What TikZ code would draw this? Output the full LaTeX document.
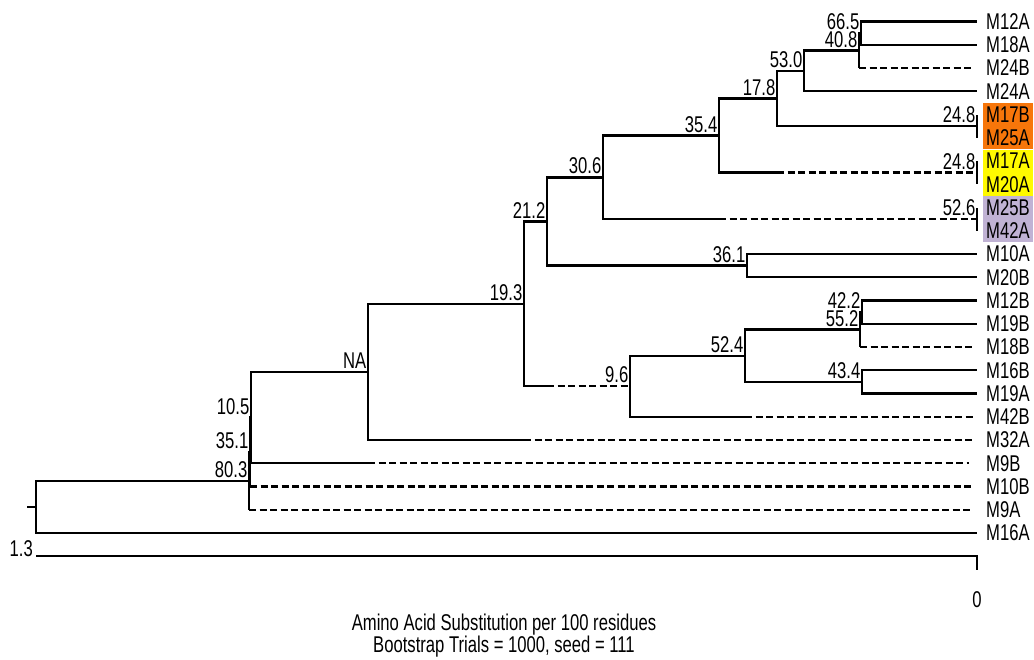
\documentclass[tikz,border=0pt]{standalone}
\usepackage{fontspec}
\setmainfont{Liberation Sans}[FakeStretch=0.73]
\usepackage{xcolor}
\usepackage{tikz}
\usetikzlibrary{positioning,fit,backgrounds}
\definecolor{hlorange}{RGB}{247,118,10}
\definecolor{hlyellow}{RGB}{255,250,0}
\definecolor{hllavender}{RGB}{192,178,212}

\begin{document}
\begin{tikzpicture}[
    x=1pt, y=-1pt,
    font=\fontsize{22.8}{22}\selectfont,
    branch/.style={draw, line width=2.4pt},
    broken/.style={branch, dash pattern=on 7pt off 3.5pt},
    leaf/.style={anchor=west, inner sep=0pt},
    boot/.style={anchor=base east, inner sep=0pt, xshift=-1.5pt, yshift=3.5pt},
    hilite/.style={inner xsep=3pt, inner ysep=3.4pt}
]
    \useasboundingbox (0,0) rectangle (1034,659);

    % Leaves
    \foreach \name/\x/\y in {M12A/977/21.5, M18A/977/44.75, M24B/973/68, M24A/977/91.25,
        M17B/977/114.5, M25A/977/137.75, M17A/977/161, M20A/977/184.25,
        M25B/977/207.5, M42A/977/230.75, M10A/977/254, M20B/977/277.25,
        M12B/977/300.5, M19B/977/323.75, M18B/973/347, M16B/977/370.25,
        M19A/977/393.5, M42B/973/416.75, M32A/973/440, M9B/969/463.25,
        M10B/973/486.5, M9A/973/509.75, M16A/977/533}{
        \coordinate (\name) at (\x,\y);
        \node[leaf] (l\name) at (986,\y) {\name};
    }

    % Highlights
    \begin{scope}[on background layer]
        \node[hilite, fill=hlorange, fit=(lM17B)(lM25A)] (hlA) {};
        \node[hilite, fill=hlyellow, fit=(lM17A)(lM20A)] (hlB) {};
        \node[hilite, fill=hllavender, fit=(lM25B)(lM42A)] (hlC) {};
    \end{scope}

    % Internal nodes
    \coordinate (b665) at (861,33.1);
    \coordinate (b408) at (859,50.6);
    \coordinate (b530) at (804,70.9);
    \coordinate (c248a) at (977,126.1);
    \coordinate (b178) at (777,98.5);
    \coordinate (c248b) at (977,172.6);
    \coordinate (b354) at (719,135.6);
    \coordinate (c526) at (977,219.1);
    \coordinate (b306) at (603,177.4);
    \coordinate (b361) at (747,265.6);
    \coordinate (b212) at (547,221.5);
    \coordinate (b422) at (862,312.1);
    \coordinate (b552) at (860,329.6);
    \coordinate (b434) at (862,381.9);
    \coordinate (b524) at (745,355.7);
    \coordinate (b96) at (630,386.2);
    \coordinate (b193) at (524,303.9);
    \coordinate (bNA) at (368,372);
    \coordinate (b105) at (251,417.6);
    \coordinate (b351) at (250,452.1);
    \coordinate (b803) at (249,480.9);
    \coordinate (root) at (36,507);
    \coordinate (stub) at (27,507);

    % Bootstrap values
    \node[boot] (t665) at (b665) {66.5};
    \node[boot] (t408) at (b408) {40.8};
    \node[boot] (t530) at (b530) {53.0};
    \node[boot] (t248a) at (c248a) {24.8};
    \node[boot] (t178) at (b178) {17.8};
    \node[boot] (t248b) at (c248b) {24.8};
    \node[boot] (t354) at (b354) {35.4};
    \node[boot] (t526) at (c526) {52.6};
    \node[boot] (t306) at (b306) {30.6};
    \node[boot] (t361) at (b361) {36.1};
    \node[boot] (t212) at (b212) {21.2};
    \node[boot] (t422) at (b422) {42.2};
    \node[boot] (t552) at (b552) {55.2};
    \node[boot] (t434) at (b434) {43.4};
    \node[boot] (t524) at (b524) {52.4};
    \node[boot] (t96) at (b96) {9.6};
    \node[boot] (t193) at (b193) {19.3};
    \node[boot] (tNA) at (bNA) {NA};
    \node[boot] (t105) at (b105) {10.5};
    \node[boot] (t351) at (b351) {35.1};
    \node[boot] (t803) at (b803) {80.3};

    % Connections
    \draw[branch] (b665) |- (M12A);
    \draw[branch] (b665) |- (M18A);
    \draw[branch] (b408) |- (b665);
    \draw[branch] (b408) -- (b408 |- M24B);
    \draw[broken] (b408 |- M24B) -- (M24B);
    \draw[branch] (b530) |- (b408);
    \draw[branch] (b530) |- (M24A);
    \draw[branch] (c248a) -- (M17B);
    \draw[branch] (c248a) -- (M25A);
    \draw[branch] (b178) |- (b530);
    \draw[branch] (b178) |- (c248a);
    \draw[branch] (c248b) -- (M17A);
    \draw[branch] (c248b) -- (M20A);
    \draw[branch] (b354) |- (b178);
    \draw[branch] (b354) |- (b178 |- c248b);
    \draw[broken] (b178 |- c248b) -- (c248b);
    \draw[branch] (c526) -- (M25B);
    \draw[branch] (c526) -- (M42A);
    \draw[branch] (b306) |- (b354);
    \draw[branch] (b306) |- (b354 |- c526);
    \draw[broken] (b354 |- c526) -- (c526);
    \draw[branch] (b361) |- (M10A);
    \draw[branch] (b361) |- (M20B);
    \draw[branch] (b212) |- (b306);
    \draw[branch] (b212) |- (b361);
    \draw[branch] (b422) |- (M12B);
    \draw[branch] (b422) |- (M19B);
    \draw[branch] (b552) |- (b422);
    \draw[branch] (b552) -- (b552 |- M18B);
    \draw[broken] (b552 |- M18B) -- (M18B);
    \draw[branch] (b434) |- (M16B);
    \draw[branch] (b434) |- (M19A);
    \draw[branch] (b524) |- (b552);
    \draw[branch] (b524) |- (b434);
    \draw[branch] (b96) |- (b524);
    \draw[branch] (b96) |- (b524 |- M42B);
    \draw[broken] (b524 |- M42B) -- (M42B);
    \draw[branch] (b193) |- (b212);
    \draw[branch] (b193) |- (b212 |- b96);
    \draw[broken] (b212 |- b96) -- (b96);
    \draw[branch] (bNA) |- (b193);
    \draw[branch] (bNA) |- (b193 |- M32A);
    \draw[broken] (b193 |- M32A) -- (M32A);
    \draw[branch] (b105) |- (bNA);
    \draw[branch] (b105) |- (bNA |- M9B);
    \draw[broken] (bNA |- M9B) -- (M9B);
    \draw[branch] (b351) |- (b105);
    \draw[branch] (b351) -- (b351 |- M10B);
    \draw[broken] (b351 |- M10B) -- (M10B);
    \draw[branch] (b803) |- (b351);
    \draw[branch] (b803) -- (b803 |- M9A);
    \draw[broken] (b803 |- M9A) -- (M9A);
    \draw[branch] (root) |- (b803);
    \draw[branch] (root) |- (M16A);
    \draw[branch] (stub) -- (root);

    % Scale
    \coordinate (s0) at (36,556.25);
    \coordinate (s1) at (977,556.25);
    \coordinate (s1tick) at (977,570);
    \draw[branch] (s0) -- (s1) -- (s1tick);
    \node[anchor=base east, inner sep=0pt] (smax) at ([xshift=-3pt]s0) {1.3};
    \node[anchor=base, inner sep=0pt] (smin) at (977,607) {0};
    \node[anchor=base, inner sep=0pt] (cap1) at (504,630) {Amino Acid Substitution per 100 residues};
    \node[anchor=base, inner sep=0pt] (cap2) at (504,652) {Bootstrap Trials = 1000, seed = 111};
\end{tikzpicture}
\end{document}
